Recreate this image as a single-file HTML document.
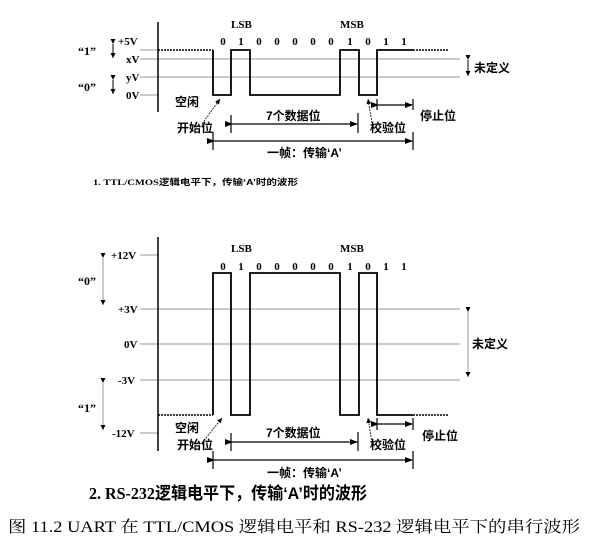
<!DOCTYPE html>
<html><head><meta charset="utf-8"><style>
body{margin:0;background:#fff}
svg{display:block}
text{font-family:"Liberation Serif","Noto Serif CJK SC",serif;font-weight:bold;fill:#000}
.c{font-family:"Liberation Sans","Noto Sans CJK SC",sans-serif;font-weight:bold}
.d text{text-anchor:middle;font-size:11px}
</style></head><body>
<svg width="614" height="546" viewBox="0 0 614 546">
<defs>
<marker id="a" markerWidth="8" markerHeight="8" refX="7" refY="4" orient="auto" markerUnits="userSpaceOnUse"><path d="M0,1 L8,4 L0,7z" fill="#000"/></marker>
<marker id="s" markerWidth="6" markerHeight="6" refX="5" refY="3" orient="auto" markerUnits="userSpaceOnUse"><path d="M0,0.5 L5,3 L0,5.5z" fill="#000"/></marker>
</defs>
<!-- TOP -->
<g stroke="#999" stroke-width="1">
<line x1="140" y1="50" x2="158" y2="50"/><line x1="140" y1="59" x2="460" y2="59"/>
<line x1="140" y1="77" x2="460" y2="77"/><line x1="140" y1="95" x2="158" y2="95"/>
</g>
<line x1="158" y1="22" x2="158" y2="112" stroke="#000" stroke-width="1.5"/>
<line x1="158" y1="50" x2="213" y2="50" stroke="#000" stroke-width="1.5" stroke-dasharray="2,1"/>
<line x1="413" y1="50" x2="448" y2="50" stroke="#000" stroke-width="1.5" stroke-dasharray="2,1"/>
<polyline fill="none" stroke="#000" stroke-width="1.8" points="213,50 213,95 231,95 231,50 250,50 250,95 340,95 340,50 359,50 359,95 377,95 377,50 413,50"/>
<text x="78" y="55" font-size="12">“1”</text><text x="78" y="91" font-size="12">“0”</text>
<g stroke="#000" stroke-width="1"><line x1="113" y1="44" x2="113" y2="58" marker-start="url(#s)" marker-end="url(#s)"/><line x1="113" y1="80" x2="113" y2="94" marker-start="url(#s)" marker-end="url(#s)"/>
<line x1="468" y1="60" x2="468" y2="76" marker-start="url(#s)" marker-end="url(#s)"/></g>
<text x="118" y="45" font-size="11">+5V</text><text x="126" y="63" font-size="11">xV</text><text x="126" y="81" font-size="11">yV</text><text x="126" y="99" font-size="11">0V</text>
<text x="231" y="28" font-size="11">LSB</text><text x="340" y="28" font-size="11">MSB</text>
<g class="d"><text x="223" y="45">0</text><text x="241" y="45">1</text><text x="259" y="45">0</text><text x="277" y="45">0</text><text x="295" y="45">0</text><text x="313" y="45">0</text><text x="331" y="45">0</text><text x="350" y="45">1</text><text x="368" y="45">0</text><text x="386" y="45">1</text><text x="404" y="45">1</text></g>
<text class="c" x="474" y="72" font-size="12">未定义</text>
<text class="c" x="175" y="106" font-size="12">空闲</text><text class="c" x="177" y="132" font-size="12">开始位</text>
<line x1="202" y1="124" x2="220" y2="99" stroke="#000" stroke-width="0.8" stroke-dasharray="2,1" marker-end="url(#s)"/>
<line x1="372" y1="123" x2="368" y2="99" stroke="#000" stroke-width="0.8" stroke-dasharray="2,1" marker-end="url(#s)"/>
<g stroke="#000" stroke-width="1.2">
<line x1="231" y1="115" x2="231" y2="133"/><line x1="358" y1="113" x2="358" y2="133"/>
<line x1="232" y1="124" x2="357" y2="124" marker-start="url(#a)" marker-end="url(#a)"/>
<line x1="213" y1="132" x2="213" y2="150"/><line x1="413" y1="132" x2="413" y2="150"/>
<line x1="214" y1="141" x2="412" y2="141" marker-start="url(#a)" marker-end="url(#a)"/>
<line x1="377" y1="99" x2="377" y2="110"/><line x1="413" y1="99" x2="413" y2="110"/>
<line x1="378" y1="105" x2="412" y2="105" marker-start="url(#a)" marker-end="url(#a)"/>
</g>
<text class="c" x="266" y="120" font-size="12">7个数据位</text>
<text class="c" x="370" y="132" font-size="12">校验位</text><text class="c" x="420" y="120" font-size="12">停止位</text>
<text class="c" x="267" y="157" font-size="12">一帧：传输‘A’</text>
<text x="93" y="185" font-size="8.5" textLength="205" lengthAdjust="spacingAndGlyphs">1. TTL/CMOS<tspan class="c">逻辑电平下，传输‘A’时的波形</tspan></text>
<!-- BOTTOM -->
<g stroke="#999" stroke-width="1">
<line x1="140" y1="255" x2="158" y2="255"/><line x1="140" y1="309" x2="460" y2="309"/>
<line x1="140" y1="344" x2="460" y2="344"/><line x1="140" y1="380" x2="460" y2="380"/>
<line x1="140" y1="433" x2="158" y2="433"/>
<line x1="468" y1="312" x2="468" y2="377" marker-start="url(#s)" marker-end="url(#s)"/>
</g>
<line x1="158" y1="237" x2="158" y2="451" stroke="#000" stroke-width="1.5"/>
<line x1="158" y1="415" x2="213" y2="415" stroke="#000" stroke-width="1.5" stroke-dasharray="2,1"/>
<line x1="413" y1="415" x2="448" y2="415" stroke="#000" stroke-width="1.5" stroke-dasharray="2,1"/>
<polyline fill="none" stroke="#000" stroke-width="1.8" points="213,415 213,273 231,273 231,415 250,415 250,273 340,273 340,415 359,415 359,273 377,273 377,415 413,415"/>
<text x="78" y="285" font-size="12">“0”</text><text x="78" y="412" font-size="12">“1”</text>
<g stroke="#999" stroke-width="1"><line x1="103" y1="258" x2="103" y2="305" marker-start="url(#s)" marker-end="url(#s)"/><line x1="103" y1="383" x2="103" y2="430" marker-start="url(#s)" marker-end="url(#s)"/></g>
<text x="111" y="259" font-size="11">+12V</text><text x="118" y="313" font-size="11">+3V</text><text x="124" y="348" font-size="11">0V</text><text x="118" y="384" font-size="11">-3V</text><text x="112" y="437" font-size="11">-12V</text>
<text x="231" y="252" font-size="11">LSB</text><text x="340" y="252" font-size="11">MSB</text>
<g class="d"><text x="223" y="270">0</text><text x="241" y="270">1</text><text x="259" y="270">0</text><text x="277" y="270">0</text><text x="295" y="270">0</text><text x="313" y="270">0</text><text x="331" y="270">0</text><text x="350" y="270">1</text><text x="368" y="270">0</text><text x="386" y="270">1</text><text x="404" y="270">1</text></g>
<text class="c" x="472" y="348" font-size="12">未定义</text>
<text class="c" x="175" y="432" font-size="12">空闲</text><text class="c" x="177" y="449" font-size="12">开始位</text>
<line x1="202" y1="443" x2="222" y2="418" stroke="#000" stroke-width="0.8" stroke-dasharray="2,1" marker-end="url(#s)"/>
<line x1="372" y1="443" x2="368" y2="418" stroke="#000" stroke-width="0.8" stroke-dasharray="2,1" marker-end="url(#s)"/>
<g stroke="#000" stroke-width="1.2">
<line x1="231" y1="433" x2="231" y2="451"/><line x1="358" y1="432" x2="358" y2="451"/>
<line x1="232" y1="442" x2="357" y2="442" marker-start="url(#a)" marker-end="url(#a)"/>
<line x1="213" y1="451" x2="213" y2="469"/><line x1="413" y1="451" x2="413" y2="469"/>
<line x1="214" y1="460" x2="412" y2="460" marker-start="url(#a)" marker-end="url(#a)"/>
<line x1="377" y1="418" x2="377" y2="430"/><line x1="413" y1="418" x2="413" y2="430"/>
<line x1="378" y1="424" x2="412" y2="424" marker-start="url(#a)" marker-end="url(#a)"/>
</g>
<text class="c" x="266" y="437" font-size="12">7个数据位</text>
<text class="c" x="370" y="449" font-size="12">校验位</text><text class="c" x="422" y="440" font-size="12">停止位</text>
<text class="c" x="267" y="477" font-size="12">一帧：传输‘A’</text>
<text x="89" y="499" font-size="17" textLength="278" lengthAdjust="spacingAndGlyphs">2. RS-232<tspan class="c">逻辑电平下，传输‘A’时的波形</tspan></text>
<text x="8" y="532" font-size="16" style="font-weight:normal" textLength="572" lengthAdjust="spacingAndGlyphs">图 11.2  UART 在 TTL/CMOS 逻辑电平和 RS-232 逻辑电平下的串行波形</text>
</svg>
</body></html>
